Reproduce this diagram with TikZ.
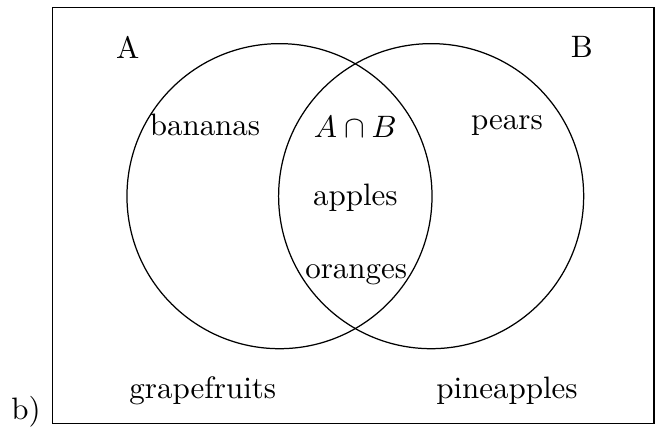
\documentclass[tikz,border=0pt]{standalone}
\usepackage{tikz}
\usetikzlibrary{positioning}

\begin{document}
\begin{tikzpicture}[
  universe/.style={rectangle,draw=black,minimum width=6.82cm,minimum height=4.72cm,anchor=south west,inner sep=0pt},
  venn/.style={circle,draw=black,minimum size=3.46cm,inner sep=0pt},
  setname/.style={inner sep=1pt},
  fruit/.style={inner sep=1pt}]
  \useasboundingbox (-0.59,-0.07) rectangle (6.93,4.81);
  \node[universe] (U) at (0,0) {};
  \node[venn] (circA) at (2.58,2.585) {};
  \node[venn] (circB) at (4.30,2.585) {};
  \node[setname] (nameA) at (0.86,4.275) {A};
  \node[setname] (nameB) at (6.01,4.275) {B};
  \node[fruit] (bananas) at (1.735,3.39) {bananas};
  \node[fruit] (inter) at (3.44,3.37) {$A\cap B$};
  \node[fruit] (pears) at (5.16,3.39) {pears};
  \node[fruit] (apples) at (3.44,2.57) {apples};
  \node[fruit] (oranges) at (3.45,1.70) {oranges};
  \node[fruit] (grapefruits) at (1.71,0.38) {grapefruits};
  \node[fruit] (pineapples) at (5.16,0.38) {pineapples};
  \node[setname] (part) at (-0.295,0.136) {b)};
\end{tikzpicture}
\end{document}
